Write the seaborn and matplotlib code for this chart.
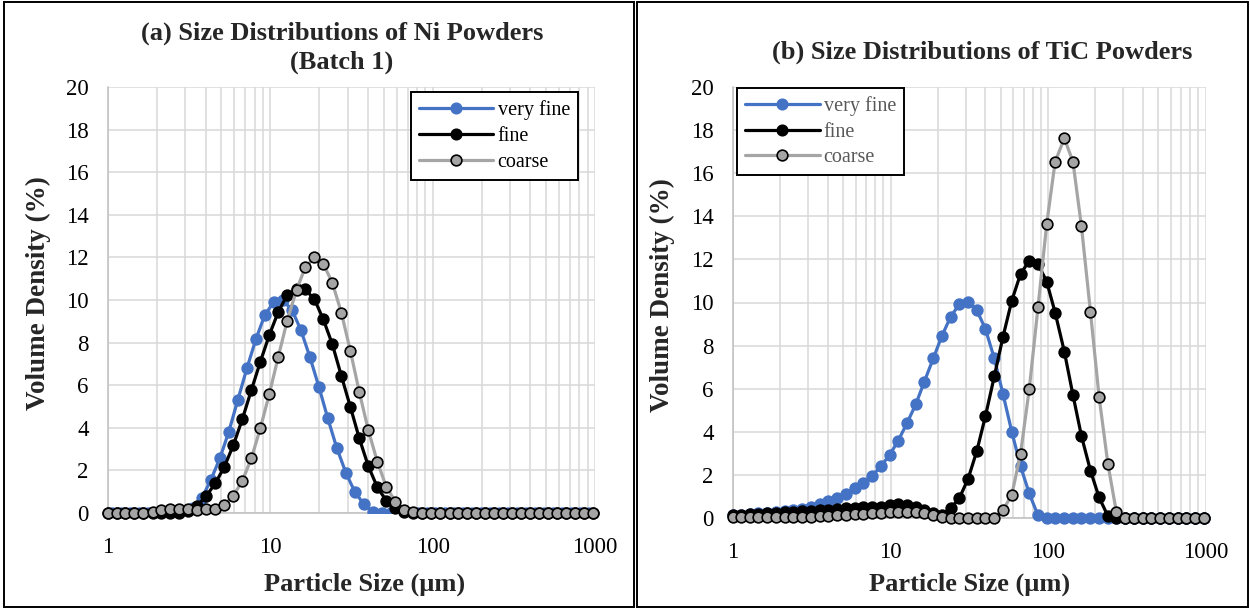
import matplotlib
matplotlib.use("Agg")
import matplotlib.pyplot as plt
import seaborn as sns
import pandas as pd
from matplotlib.patches import Rectangle
from matplotlib.ticker import LogLocator, NullFormatter
from matplotlib.lines import Line2D

# ---------------- data ----------------
# particle size classes (µm)
sizes = [1.00, 1.13, 1.28, 1.45, 1.65, 1.88, 2.13, 2.42, 2.75, 3.12, 3.55, 4.03, 4.58, 5.21,
         5.92, 6.72, 7.64, 8.68, 9.86, 11.2, 12.7, 14.5, 16.4, 18.7, 21.2, 24.1, 27.4, 31.1,
         35.3, 40.1, 45.6, 51.8, 58.9, 66.9, 76.0, 86.4, 98.1, 111, 127, 144, 163, 186, 211,
         240, 272, 310, 352, 400, 454, 516, 586, 666, 756, 859, 976]
# size classes of the very fine Ni measurement
sizes_ni_vf = [1.06, 1.20, 1.36, 1.55, 1.76, 2.00, 2.27, 2.58, 2.93, 3.33, 3.78, 4.30, 4.89,
               5.55, 6.30, 7.17, 8.14, 9.25, 10.5, 11.9, 13.6, 15.4, 17.5, 19.9, 22.6, 25.7,
               29.2, 33.1, 37.6, 42.8, 48.6, 55.2, 62.7, 71.3, 81.0, 92.0, 104, 119, 135, 153,
               174, 198, 225, 255, 291, 330, 375, 426, 484, 550, 625, 709, 806, 916, 1040]

# (a) Ni powders, batch 1 -- volume density (%)
ni_very_fine = [0, 0, 0, 0, 0, 0, 0, 0, 0.05, 0.25, 0.69, 1.55, 2.57, 3.82, 5.3, 6.79, 8.15,
                9.3, 9.9, 10.0, 9.53, 8.6, 7.34, 5.93, 4.44, 3.04, 1.89, 1.0, 0.42, 0.06, 0,
                0, 0, 0, 0, 0, 0, 0, 0, 0, 0, 0, 0, 0, 0, 0, 0, 0, 0, 0, 0, 0, 0, 0, 0]
ni_fine = [0, 0, 0, 0, 0, 0, 0, 0, 0, 0.1, 0.35, 0.8, 1.39, 2.17, 3.19, 4.4, 5.77, 7.1, 8.36,
           9.45, 10.23, 10.5, 10.5, 10.03, 9.09, 7.92, 6.43, 4.99, 3.51, 2.21, 1.21, 0.58,
           0.22, 0.06, 0, 0, 0, 0, 0, 0, 0, 0, 0, 0, 0, 0, 0, 0, 0, 0, 0, 0, 0, 0, 0]
ni_coarse = [0, 0, 0, 0, 0, 0.03, 0.15, 0.17, 0.17, 0.17, 0.14, 0.17, 0.2, 0.38, 0.82, 1.5,
             2.57, 3.98, 5.59, 7.34, 9.03, 10.47, 11.53, 12.0, 11.69, 10.81, 9.4, 7.62, 5.69,
             3.9, 2.41, 1.23, 0.53, 0.14, 0.03, 0, 0, 0, 0, 0, 0, 0, 0, 0, 0, 0, 0, 0, 0, 0,
             0, 0, 0, 0, 0]

# (b) TiC powders -- volume density (%)
tic_very_fine = [0.12, 0.15, 0.18, 0.21, 0.25, 0.28, 0.32, 0.37, 0.44, 0.52, 0.63, 0.77, 0.93,
                 1.13, 1.38, 1.64, 1.95, 2.4, 2.92, 3.59, 4.39, 5.29, 6.33, 7.41, 8.45, 9.34,
                 9.93, 10.04, 9.65, 8.76, 7.41, 5.75, 4.0, 2.41, 1.14, 0.12, 0, 0, 0, 0, 0, 0,
                 0, 0, 0, 0, 0, 0, 0, 0, 0, 0, 0, 0, 0]
tic_fine = [0.15, 0.16, 0.18, 0.2, 0.22, 0.24, 0.26, 0.29, 0.31, 0.34, 0.36, 0.39, 0.42, 0.45,
            0.48, 0.5, 0.52, 0.52, 0.6, 0.65, 0.6, 0.52, 0.37, 0.22, 0.14, 0.45, 0.93, 1.82,
            3.1, 4.74, 6.57, 8.41, 10.09, 11.32, 11.94, 11.79, 10.97, 9.53, 7.72, 5.71, 3.81,
            2.2, 0.96, 0.09, 0, 0, 0, 0, 0, 0, 0, 0, 0, 0, 0]
tic_coarse = [0.05, 0.05, 0.05, 0.05, 0.05, 0.05, 0.05, 0.05, 0.05, 0.06, 0.08, 0.1, 0.12,
              0.15, 0.18, 0.2, 0.22, 0.25, 0.27, 0.3, 0.3, 0.28, 0.22, 0.12, 0.05, 0.02, 0.02,
              0.02, 0.02, 0.02, 0.02, 0.37, 1.07, 2.97, 5.97, 9.78, 13.64, 16.53, 17.62, 16.53,
              13.55, 9.57, 5.63, 2.51, 0.26, 0, 0, 0, 0, 0, 0, 0, 0, 0, 0]

series_names = ["very fine", "fine", "coarse"]
x_ticks = [1, 10, 100, 1000]
x_tick_labels = ["1", "10", "100", "1000"]
y_ticks = [0, 2, 4, 6, 8, 10, 12, 14, 16, 18, 20]

# ---------------- style ----------------
sns.set_theme(style="white")
plt.rcParams['font.family'] = ['Liberation Serif', 'DejaVu Serif']

BLUE = "#4472C4"
GRAY = "#A5A5A5"
GRID = "#D9D9D9"

W, H = 1250, 609
fig = plt.figure(figsize=(W / 100, H / 100), dpi=100)


def axes_px(x0, y0, x1, y1):
    return fig.add_axes([x0 / W, 1 - y1 / H, (x1 - x0) / W, (y1 - y0) / H])


axL = axes_px(108, 87, 595, 513)
axR = axes_px(733, 87, 1205.5, 518)

LW = 2.3
MS = 7.7


def draw(ax, xs_list, ys_list, clip_first):
    styles = [
        dict(color=BLUE, markerfacecolor=BLUE, markeredgecolor=BLUE, zorder=3),
        dict(color="black", markerfacecolor="black", markeredgecolor="black", zorder=4),
        dict(color=GRAY, markerfacecolor=GRAY, markeredgecolor="black", zorder=5),
    ]
    for i, (xs, ys, name, st) in enumerate(zip(xs_list, ys_list, series_names, styles)):
        df = pd.DataFrame({"size": xs, "vol": ys})
        sns.lineplot(data=df, x="size", y="vol", ax=ax, sort=False, estimator=None,
                     marker="o", markersize=MS, linewidth=LW, markeredgewidth=1.2,
                     label=name, clip_on=(clip_first and i == 0), **st)
    ax.set_xscale("log")
    ax.set_xlim(1, 1000)
    ax.set_ylim(0, 20)
    ax.set_xticks(x_ticks)
    ax.set_xticklabels(x_tick_labels)
    ax.xaxis.set_minor_locator(LogLocator(base=10, subs=range(2, 10), numticks=20))
    ax.xaxis.set_minor_formatter(NullFormatter())
    ax.set_yticks(y_ticks)
    ax.set_yticklabels([str(v) for v in y_ticks])
    ax.grid(which="major", axis="both", color=GRID, linewidth=1.1, zorder=0)
    ax.grid(which="minor", axis="x", color=GRID, linewidth=1.1, zorder=0)
    ax.set_axisbelow(True)
    for s in ["top", "right"]:
        ax.spines[s].set_visible(False)
    for s in ["left", "bottom"]:
        ax.spines[s].set_color("#BFBFBF")
        ax.spines[s].set_linewidth(1.1)
    ax.tick_params(axis="both", which="both", length=0, labelsize=16.5, colors="black")
    ax.tick_params(axis="y", pad=14)
    ax.tick_params(axis="x", pad=17)
    ax.set_xlabel("")
    ax.set_ylabel("")
    ax.set_facecolor("white")


draw(axL, [sizes_ni_vf, sizes, sizes], [ni_very_fine, ni_fine, ni_coarse], True)
draw(axR, [sizes, sizes, sizes], [tic_very_fine, tic_fine, tic_coarse], False)


def legend(ax, loc, anchor, textcolor):
    handles = [
        Line2D([], [], color=BLUE, marker="o", markersize=MS, linewidth=LW,
               markerfacecolor=BLUE, markeredgecolor=BLUE),
        Line2D([], [], color="black", marker="o", markersize=MS, linewidth=LW,
               markerfacecolor="black", markeredgecolor="black"),
        Line2D([], [], color=GRAY, marker="o", markersize=MS, linewidth=LW,
               markerfacecolor=GRAY, markeredgecolor="black", markeredgewidth=1.2),
    ]
    leg = ax.legend(handles, series_names, loc=loc, bbox_to_anchor=anchor, borderaxespad=0,
                    frameon=True, fancybox=False, fontsize=14.5, handlelength=3.7,
                    handletextpad=0.2, labelspacing=0.33, borderpad=0.4)
    fr = leg.get_frame()
    fr.set_edgecolor("black")
    fr.set_linewidth(1.4)
    fr.set_facecolor("white")
    fr.set_alpha(1)
    for t in leg.get_texts():
        t.set_color(textcolor)
    leg.set_zorder(10)


legend(axL, "upper right", (0.965, 0.988), "black")
legend(axR, "upper left", (0.0085, 0.998), "#595959")


def ftext(x, y, s, **kw):
    fig.text(x / W, 1 - y / H, s, ha="center", va="center", fontweight="bold", **kw)


ftext(342, 33, "(a) Size Distributions of Ni Powders", fontsize=19)
ftext(342, 62, "(Batch 1)", fontsize=19)
ftext(982, 52, "(b) Size Distributions of TiC Powders", fontsize=19)
ftext(38, 293, "Volume Density (%)", fontsize=19.5, rotation=90)
ftext(662, 295, "Volume Density (%)", fontsize=19.5, rotation=90)
ftext(365, 584, "Particle Size (µm)", fontsize=19)
ftext(970, 584, "Particle Size (µm)", fontsize=19)

# panel frames
for (x0, y0, x1, y1) in [(4, 2, 634, 607), (637, 2, 1248, 607)]:
    fig.add_artist(Rectangle((x0 / W, 1 - y1 / H), (x1 - x0) / W, (y1 - y0) / H,
                             transform=fig.transFigure, fill=False, edgecolor="black",
                             linewidth=1.4))

fig.savefig("out.png", dpi=100, facecolor="white")
